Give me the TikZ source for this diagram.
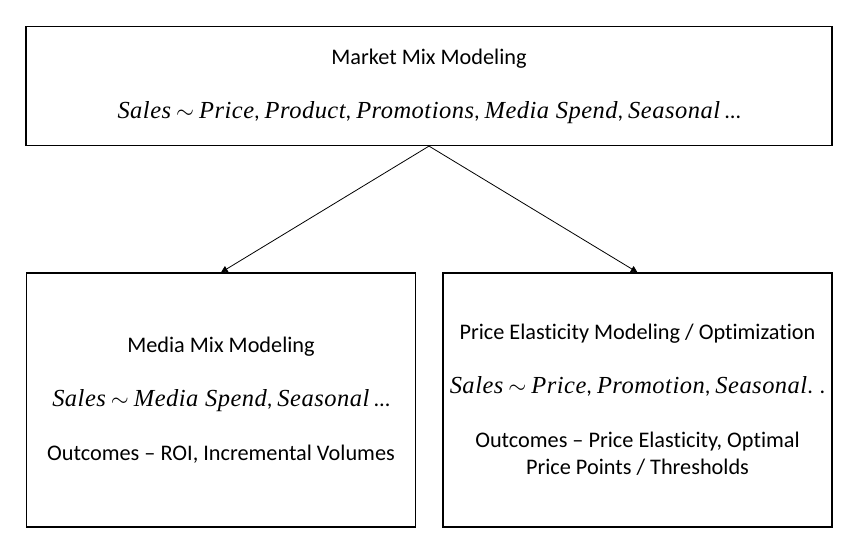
\documentclass[tikz,border=0pt]{standalone}
\usepackage{fontspec}
\usepackage{tikz}
\usetikzlibrary{arrows.meta}
\setmainfont{Carlito}[Ligatures=NoCommon]
\newfontfamily\eqfont{Liberation Serif}[Scale=1.1,LetterSpace=2]
\newcommand{\mv}[1]{{\eqfont\itshape #1}}

\begin{document}
\begin{tikzpicture}
  [x=0.75pt,y=-0.75pt,
   every node/.style={draw,line width=0.9pt,align=center,
     font=\fontsize{16.7}{20.25}\selectfont,inner sep=0pt}]
  \useasboundingbox (0,0) rectangle (863,550);
  \node[minimum width=806*0.75pt,minimum height=119*0.75pt] (mmm) at (429,86)
    {Market Mix Modeling\\[20.25pt]
     \mv{Sales} $\sim$ \mv{Price}, \mv{Product}, \mv{Promotions}, \mv{Media Spend}, \mv{Seasonal} \ldots};
  \node[minimum width=389*0.75pt,minimum height=254*0.75pt] (media) at (221,400)
    {Media Mix Modeling\\[20.25pt]
     \mv{Sales} $\sim$ \mv{Media Spend}, \mv{Seasonal} \ldots\\[20.25pt]
     Outcomes -- ROI, Incremental Volumes};
  \node[minimum width=389*0.75pt,minimum height=254*0.75pt] (price) at (637.5,400)
    {Price Elasticity Modeling / Optimization\\[20.25pt]
     \mv{Sales} $\sim$ \mv{Price}, \mv{Promotion}, \mv{Seasonal}. .\\[20.25pt]
     Outcomes -- Price Elasticity, Optimal\\
     Price Points / Thresholds};

  \foreach \from/\to in {mmm/media,mmm/price}
    \draw[line width=0.6pt,-{Triangle[width=5pt,length=5pt]}] (\from.south) -- (\to.north);

\end{tikzpicture}
\end{document}
